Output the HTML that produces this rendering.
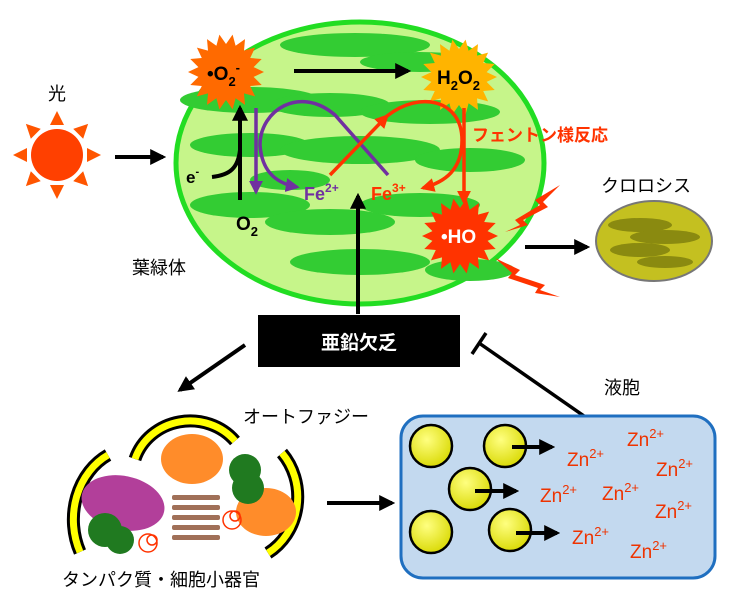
<!DOCTYPE html>
<html><head><meta charset="utf-8"><style>
body{margin:0;background:#fff;width:748px;height:606px;overflow:hidden}
svg{display:block}
text{font-family:"Liberation Sans","Noto Sans CJK JP",sans-serif}
</style></head><body>
<svg id="s" width="748" height="606" viewBox="0 0 748 606" xmlns="http://www.w3.org/2000/svg">
<defs>
<marker id="abk" viewBox="0 0 10 10" markerWidth="16" markerHeight="16" refX="8" refY="5" orient="auto" markerUnits="userSpaceOnUse"><path d="M0,0 L10,5 L0,10z" fill="#000"/></marker>
<marker id="ap" viewBox="0 0 10 10" markerWidth="14" markerHeight="14" refX="8" refY="5" orient="auto" markerUnits="userSpaceOnUse"><path d="M0,0 L10,5 L0,10z" fill="#7030a0"/></marker>
<marker id="ar" viewBox="0 0 10 10" markerWidth="14" markerHeight="14" refX="8" refY="5" orient="auto" markerUnits="userSpaceOnUse"><path d="M0,0 L10,5 L0,10z" fill="#ff3300"/></marker>
<radialGradient id="yb" cx="0.4" cy="0.35" r="0.7"><stop offset="0" stop-color="#ffff80"/><stop offset="1" stop-color="#d8d800"/></radialGradient>
<filter id="sh"><feGaussianBlur stdDeviation="4"/></filter>
</defs>
<!-- chloroplast -->
<ellipse cx="360" cy="163" rx="184" ry="141" fill="#c6f58a" stroke="#22dd22" stroke-width="5"/>
<g fill="#33cc33">
<ellipse cx="355" cy="45" rx="75" ry="12"/><ellipse cx="420" cy="62" rx="60" ry="10"/>
<ellipse cx="250" cy="100" rx="70" ry="13"/><ellipse cx="330" cy="105" rx="60" ry="12"/>
<ellipse cx="430" cy="112" rx="70" ry="12"/><ellipse cx="250" cy="145" rx="60" ry="12"/>
<ellipse cx="360" cy="150" rx="80" ry="14"/><ellipse cx="470" cy="160" rx="55" ry="12"/>
<ellipse cx="250" cy="205" rx="60" ry="13"/><ellipse cx="330" cy="222" rx="65" ry="13"/>
<ellipse cx="420" cy="205" rx="60" ry="12"/><ellipse cx="360" cy="262" rx="70" ry="13"/>
<ellipse cx="470" cy="270" rx="45" ry="11"/><ellipse cx="290" cy="180" rx="40" ry="10"/>
</g>
<g id="stars"></g>
<text x="207" y="80" font-size="19" font-weight="bold">•O<tspan font-size="13" dy="6">2</tspan><tspan font-size="13" dy="-14">-</tspan></text>
<text x="437" y="84" font-size="19" font-weight="bold">H<tspan font-size="13" dy="6">2</tspan><tspan dy="-6">O</tspan><tspan font-size="13" dy="6">2</tspan></text>
<text x="441" y="243" font-size="19" font-weight="bold" fill="#fff">•HO</text>
<line x1="294" y1="71" x2="408" y2="71" stroke="#000" stroke-width="4" marker-end="url(#abk)"/>
<line x1="240" y1="200" x2="240" y2="108" stroke="#000" stroke-width="4" marker-end="url(#abk)"/>
<path d="M212,177 C230,175 238,168 240,150" fill="none" stroke="#000" stroke-width="4"/>
<text x="186" y="183" font-size="17" font-weight="bold">e<tspan font-size="11" dy="-8">-</tspan></text>
<text x="236" y="230" font-size="19" font-weight="bold">O<tspan font-size="13" dy="6">2</tspan></text>
<!-- purple -->
<line x1="256" y1="108" x2="256" y2="192" stroke="#7030a0" stroke-width="3.5" marker-end="url(#ap)"/>
<path d="M388,175 L335,115 C300,85 260,110 260,145 C262,175 280,184 297,187" fill="none" stroke="#7030a0" stroke-width="3.5" marker-end="url(#ap)"/>
<text x="304" y="200" font-size="18" font-weight="bold" fill="#7030a0">Fe<tspan font-size="12" dy="-8">2+</tspan></text>
<!-- red -->
<path d="M330,175 L387,116" fill="none" stroke="#ff3300" stroke-width="3.5" marker-end="url(#ar)"/>
<path d="M387,116 C420,90 462,100 462,140 C462,170 445,182 423,188" fill="none" stroke="#ff3300" stroke-width="3.5" marker-end="url(#ar)"/>
<line x1="464" y1="108" x2="464" y2="202" stroke="#ff3300" stroke-width="3.5" marker-end="url(#ar)"/>
<text x="371" y="200" font-size="18" font-weight="bold" fill="#ff3300">Fe<tspan font-size="12" dy="-8">3+</tspan></text>
<text x="472" y="141" font-size="17" font-weight="bold" fill="#ff3300">フェントン様反応</text>
<!-- lightning -->
<path d="M560,185 L535,200 L540,205 L515,220 L520,225 L505,232 L528,225 L523,220 L548,207 L543,202z" fill="#ff3300"/>
<path d="M495,258 L520,270 L515,275 L545,285 L540,290 L560,297 L535,293 L538,288 L508,278 L512,273z" fill="#ff3300"/>
<!-- sun -->
<circle cx="57" cy="155" r="26" fill="#ff4000"/>
<g id="rays" fill="#ff5500"></g>
<text x="48" y="100" font-size="18">光</text>
<line x1="115" y1="157" x2="163" y2="157" stroke="#000" stroke-width="4" marker-end="url(#abk)"/>
<text x="132" y="274" font-size="18">葉緑体</text>
<!-- chlorosis -->
<text x="601" y="192" font-size="18">クロロシス</text>
<line x1="525" y1="247" x2="587" y2="247" stroke="#000" stroke-width="4" marker-end="url(#abk)"/>
<ellipse cx="654" cy="241" rx="58" ry="40" fill="#c4c020" stroke="#777" stroke-width="2"/>
<g fill="#8a8a10"><ellipse cx="640" cy="225" rx="32" ry="7"/><ellipse cx="665" cy="237" rx="35" ry="7"/><ellipse cx="640" cy="250" rx="30" ry="7"/><ellipse cx="665" cy="262" rx="28" ry="6"/></g>
<!-- zinc deficiency -->
<line x1="358" y1="314" x2="358" y2="196" stroke="#000" stroke-width="4" marker-end="url(#abk)"/>
<rect x="258" y="315" width="202" height="52" fill="#000"/>
<text x="359" y="349" font-size="19" font-weight="bold" fill="#fff" text-anchor="middle">亜鉛欠乏</text>
<line x1="245" y1="345" x2="180" y2="390" stroke="#000" stroke-width="4" marker-end="url(#abk)"/>
<line x1="607" y1="432" x2="479" y2="343" stroke="#000" stroke-width="3.5"/>
<line x1="472" y1="354" x2="486" y2="333" stroke="#000" stroke-width="3.5"/>
<text x="604" y="394" font-size="18">液胞</text>
<!-- vacuole -->
<rect x="401" y="416" width="314" height="162" rx="22" fill="#c3d9ef" stroke="#1f6fc0" stroke-width="3"/>
<g fill="url(#yb)" stroke="#000" stroke-width="2.5">
<circle cx="431" cy="446" r="21"/><circle cx="505" cy="446" r="21"/><circle cx="470" cy="489" r="21"/><circle cx="431" cy="532" r="21"/><circle cx="510" cy="530" r="21"/></g>
<g stroke="#000" stroke-width="4"><line x1="512" y1="447" x2="552" y2="447" marker-end="url(#abk)"/><line x1="475" y1="491" x2="516" y2="491" marker-end="url(#abk)"/><line x1="516" y1="533" x2="557" y2="533" marker-end="url(#abk)"/></g>
<g font-size="19" fill="#ee3300">
<text x="567" y="466">Zn<tspan font-size="13" dy="-8">2+</tspan></text>
<text x="627" y="446">Zn<tspan font-size="13" dy="-8">2+</tspan></text>
<text x="656" y="476">Zn<tspan font-size="13" dy="-8">2+</tspan></text>
<text x="540" y="502">Zn<tspan font-size="13" dy="-8">2+</tspan></text>
<text x="602" y="500">Zn<tspan font-size="13" dy="-8">2+</tspan></text>
<text x="655" y="518">Zn<tspan font-size="13" dy="-8">2+</tspan></text>
<text x="572" y="544">Zn<tspan font-size="13" dy="-8">2+</tspan></text>
<text x="630" y="558">Zn<tspan font-size="13" dy="-8">2+</tspan></text>
</g>
<!-- autophagy -->
<text x="243" y="423" font-size="18">オートファジー</text>
<text x="62" y="586" font-size="18">タンパク質・細胞小器官</text>
<line x1="327" y1="503" x2="392" y2="503" stroke="#000" stroke-width="4" marker-end="url(#abk)"/>
<g fill="none" stroke-linecap="butt">
<path d="M135,459 A58,55 0 0 1 235,441" stroke="#000" stroke-width="13"/><path d="M135,459 A58,55 0 0 1 235,441" stroke="#ffff00" stroke-width="7"/>
<path d="M108,455 A62,72 0 0 0 80,552" stroke="#000" stroke-width="13"/><path d="M108,455 A62,72 0 0 0 80,552" stroke="#ffff00" stroke-width="7"/>
<path d="M282,453 A60,65 0 0 1 268,553" stroke="#000" stroke-width="13"/><path d="M282,453 A60,65 0 0 1 268,553" stroke="#ffff00" stroke-width="7"/>
</g>
<ellipse cx="192" cy="459" rx="31" ry="25" fill="#ff8c2a"/>
<ellipse cx="266" cy="512" rx="30" ry="24" fill="#ff8c2a"/>
<ellipse cx="123" cy="503" rx="42" ry="27" fill="#b23f9a" transform="rotate(12 123 503)"/>
<g fill="#207a20"><circle cx="245" cy="470" r="16"/><circle cx="248" cy="488" r="16"/><circle cx="105" cy="530" r="17"/><circle cx="120" cy="540" r="14"/></g>
<g fill="#a07058"><rect x="172" y="495" width="48" height="5" rx="2"/><rect x="172" y="505" width="48" height="5" rx="2"/><rect x="172" y="515" width="48" height="5" rx="2"/><rect x="172" y="525" width="48" height="5" rx="2"/><rect x="172" y="535" width="48" height="5" rx="2"/></g>
<g fill="none" stroke="#ff3300" stroke-width="1.5"><circle cx="148" cy="543" r="9"/><circle cx="152" cy="540" r="5"/><circle cx="232" cy="520" r="9"/><circle cx="235" cy="516" r="5"/></g>
</svg>
<script>
function star(cx,cy,r1,r2,n,fill){var p=[];for(var i=0;i<2*n;i++){var a=Math.PI*i/n,r=i%2?r2:r1;p.push((cx+r*Math.cos(a)).toFixed(1)+','+(cy+r*Math.sin(a)).toFixed(1));}
var e=document.createElementNS('http://www.w3.org/2000/svg','polygon');e.setAttribute('points',p.join(' '));e.setAttribute('fill',fill);return e;}
var g=document.getElementById('stars');
g.appendChild(star(226,72,38,28,18,'#ff6a00'));
g.appendChild(star(459,77,38,28,18,'#ffb400'));
g.appendChild(star(460,236,38,28,18,'#ff3300'));
var r=document.getElementById('rays');
for(var i=0;i<8;i++){var a=Math.PI*i/4,c=Math.cos(a),s=Math.sin(a),cx=57,cy=155;
var t=document.createElementNS('http://www.w3.org/2000/svg','polygon');
var px=-s,py=c;t.setAttribute('points',[(cx+30*c+7*px)+','+(cy+30*s+7*py),(cx+30*c-7*px)+','+(cy+30*s-7*py),(cx+44*c)+','+(cy+44*s)].join(' '));t.setAttribute('fill','#ff5500');r.appendChild(t);}
</script>
</body></html>
